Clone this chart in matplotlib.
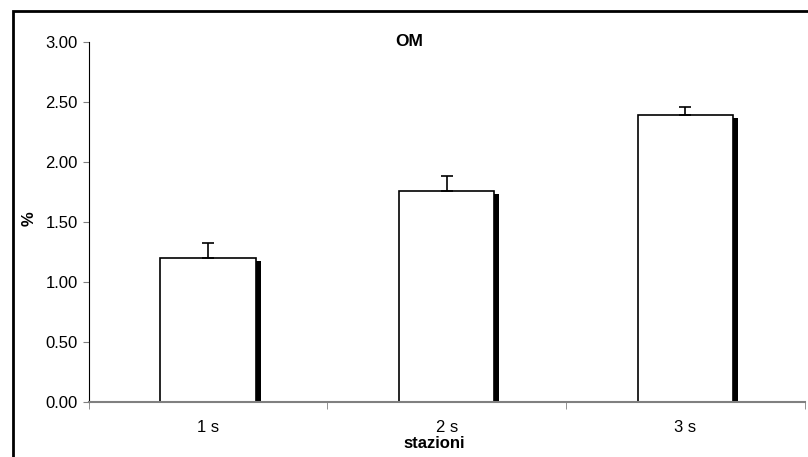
import numpy as np
import matplotlib
matplotlib.use("Agg")
import matplotlib.pyplot as plt
from matplotlib.patches import Rectangle

plt.rcParams['font.family'] = ['Liberation Sans', 'DejaVu Sans']

# data
stations = ['1 s', '2 s', '3 s']
om_values = [1.20, 1.76, 2.39]
om_errors = [0.125, 0.12, 0.07]
yticks = [0.0, 0.5, 1.0, 1.5, 2.0, 2.5, 3.0]

fig = plt.figure(figsize=(8.08, 4.57), dpi=100)
ax = fig.add_axes([0.110, 0.1204, 0.8857, 0.7877])

x = np.arange(len(stations))
width = 0.40
dx = 0.021   # shadow offset (x)
dy = 0.025   # shadow offset (y)

# shadow behind each bar
ax.bar(x + dx, np.array(om_values) - dy, width, color='black', zorder=1)
ax.bar(x, om_values, width, color='white', edgecolor='black', linewidth=1.2, zorder=2)
ax.errorbar(x, om_values, yerr=[np.zeros(len(om_errors)), om_errors], fmt='none',
            ecolor='black', elinewidth=1.2, capsize=4.5, capthick=1.2, zorder=3)

ax.set_xlim(-0.5, len(stations) - 0.5)
ax.set_ylim(0, 3.0)
ax.set_yticks(yticks)
ax.set_yticklabels([f'{v:.2f}' for v in yticks], fontsize=12)
ax.set_xticks(x)
ax.set_xticklabels(stations, fontsize=12)
ax.tick_params(axis='x', length=0, pad=13)
ax.set_xticks(np.arange(-0.5, len(stations)), minor=True)
ax.tick_params(axis='x', which='minor', length=5, color='#808080', direction='out')
ax.tick_params(axis='y', length=4, color='#808080', direction='out', pad=4)

for s in ['top', 'right']:
    ax.spines[s].set_visible(False)
ax.spines['left'].set_color('black')
ax.spines['left'].set_linewidth(0.8)
ax.spines['bottom'].set_color('#808080')
ax.spines['bottom'].set_linewidth(1.5)

fig.text(409 / 808, 1 - 42 / 457, 'OM', fontsize=12.5, fontweight='bold', ha='center', va='center')
fig.text(29 / 808, 1 - 219 / 457, '%', fontsize=12, fontweight='bold', rotation=90,
         ha='center', va='center')
fig.text(434 / 808, 1 - 443 / 457, 'stazioni', fontsize=12, fontweight='bold',
         ha='center', va='center')

# outer chart frame (clipped at right/bottom)
fig.patches.append(Rectangle((13 / 808, -0.2), 1.2, 1 - 11 / 457 + 0.2,
                             transform=fig.transFigure, fill=False,
                             edgecolor='black', linewidth=2))

fig.savefig('out.png', dpi=100)
